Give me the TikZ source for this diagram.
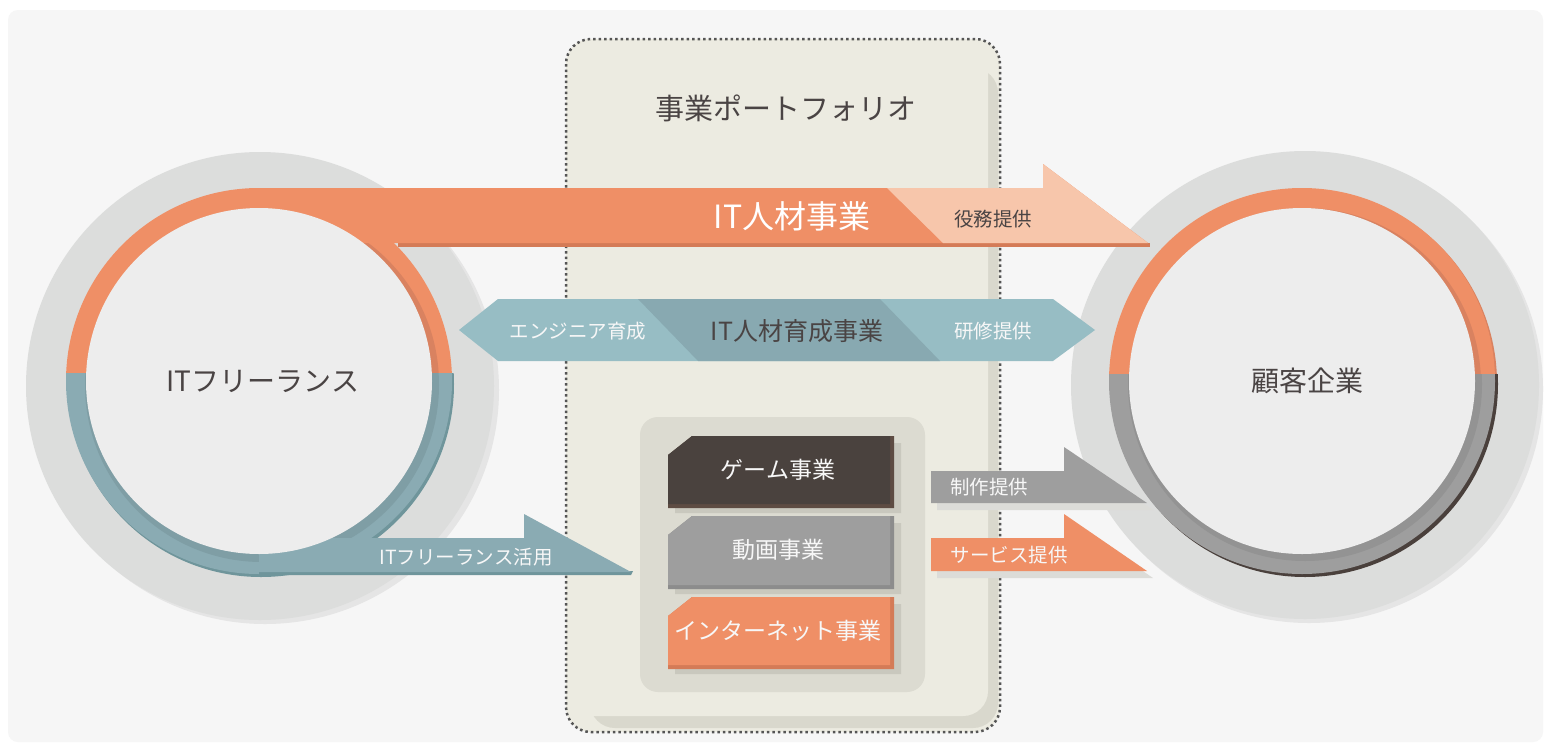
\documentclass[tikz,border=0pt]{standalone}
\usepackage{fontspec}
\setmainfont{Noto Sans CJK JP}
\definecolor{pagebg}{HTML}{F6F6F6}
\definecolor{halo}{HTML}{DCDDDC}
\definecolor{haloedge}{HTML}{E5E5E5}
\definecolor{innerc}{HTML}{EDEDED}
\definecolor{orng}{HTML}{EF8F66}
\definecolor{orngdk}{HTML}{D98260}
\definecolor{orngedge}{HTML}{D47B57}
\definecolor{orngl}{HTML}{F7C6AB}
\definecolor{tealring}{HTML}{8AABB3}
\definecolor{tealdk}{HTML}{7F9EA5}
\definecolor{tealedge}{HTML}{6F959B}
\definecolor{teall}{HTML}{97BDC4}
\definecolor{tealm}{HTML}{88A9B1}
\definecolor{beige}{HTML}{ECEBE1}
\definecolor{beigesh}{HTML}{D9D8CD}
\definecolor{ibox}{HTML}{DCDBD1}
\definecolor{iboxsh}{HTML}{C9C8BE}
\definecolor{game}{HTML}{4A423E}
\definecolor{gameedge}{HTML}{5E4C43}
\definecolor{vgrey}{HTML}{9E9E9E}
\definecolor{vgreyedge}{HTML}{8C8C8C}
\definecolor{vgreydk}{HTML}{939393}
\definecolor{brownsh}{HTML}{4A403C}
\definecolor{arrsh}{HTML}{DCDCD8}
\definecolor{txtdk}{HTML}{4A4444}
\definecolor{txtwt}{HTML}{F7F7F7}
\definecolor{dotc}{HTML}{555555}
\tikzset{
  txt/.style={inner sep=0pt, anchor=center},
  dk/.style={text=txtdk},
  wt/.style={text=txtwt},
  fsa/.style={font=\fontsize{19.5}{21}\selectfont},
  fsb/.style={font=\fontsize{23}{25}\selectfont},
  fsc/.style={font=\fontsize{25}{27}\selectfont},
  fsd/.style={font=\fontsize{28}{30}\selectfont},
  fse/.style={font=\fontsize{32}{34}\selectfont},
}
\begin{document}
\begin{tikzpicture}[x=1pt,y=-1pt]
\useasboundingbox (0,0) rectangle (1545,745);
\fill[white] (0,0) rectangle (1545,745);
\fill[pagebg, rounded corners=10pt] (8,10) rectangle (1543,742);

% halos
\fill[haloedge] (265,390) circle (234pt);
\fill[halo] (260,386) circle (234pt);
\fill[haloedge] (1309,389) circle (234pt);
\fill[halo] (1305,385) circle (234pt);

% central panel
\fill[beige, rounded corners=25pt] (566,39) rectangle (1000,732);
\fill[beigesh, rounded corners=25pt] (590,68) rectangle (998,728);
\fill[beige, rounded corners=25pt] (566,39) rectangle (988,716);
\draw[dotc, line width=2.5pt, dash pattern=on 2.5pt off 3pt, rounded corners=25pt] (566,39) rectangle (1000,732);

% left ring
\fill[orngedge] (398,243) rectangle (1150,247);
\begin{scope}
  \clip (0,0) rectangle (700,373);
  \fill[orng] (259,381) circle (193pt);
  \fill[orngdk] (263,384) circle (176pt);
\end{scope}
\begin{scope}
  \clip (0,373) rectangle (700,745);
  \fill[tealedge] (261,384) circle (193pt);
  \fill[tealring] (259,381) circle (193pt);
  \fill[tealdk] (262,385) circle (177pt);
\end{scope}

% right ring
\begin{scope}
  \clip (1000,0) rectangle (1545,374);
  \fill[orngdk] (1304,383) circle (193pt);
  \fill[orng] (1302,381) circle (193pt);
  \fill[orngdk] (1305,384) circle (176pt);
\end{scope}
\begin{scope}
  \clip (1000,374) rectangle (1545,745);
  \fill[brownsh] (1305,384) circle (193pt);
  \fill[vgrey] (1302,381) circle (193pt);
  \fill[vgreydk] (1305,384) circle (177pt);
\end{scope}

% top orange arrow
\fill[orng] (259,188) -- (1043,188) -- (1043,164) -- (1148,243) -- (259,243) -- cycle;
\fill[orngl] (887,188) -- (1043,188) -- (1043,164) -- (1148,243) -- (943,243) -- cycle;

% teal double arrow
\fill[teall] (459,330) -- (498,299) -- (1053,299) -- (1095,330) -- (1053,361) -- (498,361) -- cycle;
\fill[tealm] (638,299) -- (880,299) -- (940,361) -- (698,361) -- cycle;

% bottom teal arrow
\fill[tealedge] (259,571) -- (633,571) -- (631,575) -- (259,575) -- cycle;
\fill[tealring] (259,538) -- (524,538) -- (524,514) -- (631,572) -- (259,572) -- cycle;

% right small arrows
\fill[arrsh] (937,478) -- (1070,478) -- (1070,454) -- (1153,510) -- (937,510) -- cycle;
\fill[vgrey] (931,471) -- (1064,471) -- (1064,447) -- (1147,503) -- (931,503) -- cycle;
\fill[arrsh] (937,545) -- (1070,545) -- (1070,521) -- (1153,578) -- (937,578) -- cycle;
\fill[orng] (931,538) -- (1064,538) -- (1064,514) -- (1147,571) -- (931,571) -- cycle;

% inner circles
\fill[innerc] (259,381) circle (173pt);
\fill[innerc] (1302,381) circle (173pt);

% inner box
\fill[ibox, rounded corners=18pt] (640,417) rectangle (925,692);

% business boxes
\foreach \ya/\yb/\cf/\ce in {436/508/game/gameedge, 516/589/vgrey/vgreyedge, 597/669/orng/orngedge}{
  \fill[iboxsh] (675,\ya+26) -- (699,\ya+7) -- (901,\ya+7) -- (901,\yb+5) -- (675,\yb+5) -- cycle;
  \fill[\ce] (668,\ya+19) -- (692,\ya) -- (894,\ya) -- (894,\yb) -- (668,\yb) -- cycle;
  \fill[\cf] (668,\ya+19) -- (692,\ya) -- (890,\ya) -- (890,\yb-4) -- (668,\yb-4) -- cycle;
}

% texts
\node[txt, dk, fsd] (free) at (263,381) {ITフリーランス};
\node[txt, dk, fsd] (client) at (1307,381) {顧客企業};
\node[txt, dk, font=\fontsize{29}{31}\selectfont] (title) at (786,108) {事業ポートフォリオ};
\node[txt, text=white, fse] (itjinzai) at (792,216) {IT人材事業};
\node[txt, dk, fsa] (ekimu) at (993,219) {役務提供};
\node[txt, wt, fsa] (engineer) at (578,331) {エンジニア育成};
\node[txt, dk, fsc] (ikusei) at (797,331) {IT人材育成事業};
\node[txt, wt, fsa] (kenshu) at (993,331) {研修提供};
\node[txt, wt, fsa] (katsuyo) at (466,557) {ITフリーランス活用};
\node[txt, wt, fsa] (seisaku) at (989,487) {制作提供};
\node[txt, wt, fsa] (service) at (1009,555) {サービス提供};
\node[txt, wt, fsb] (gamet) at (778,470) {ゲーム事業};
\node[txt, wt, fsb] (videot) at (778,550) {動画事業};
\node[txt, wt, fsb] (nett) at (778,631) {インターネット事業};
\end{tikzpicture}
\end{document}
